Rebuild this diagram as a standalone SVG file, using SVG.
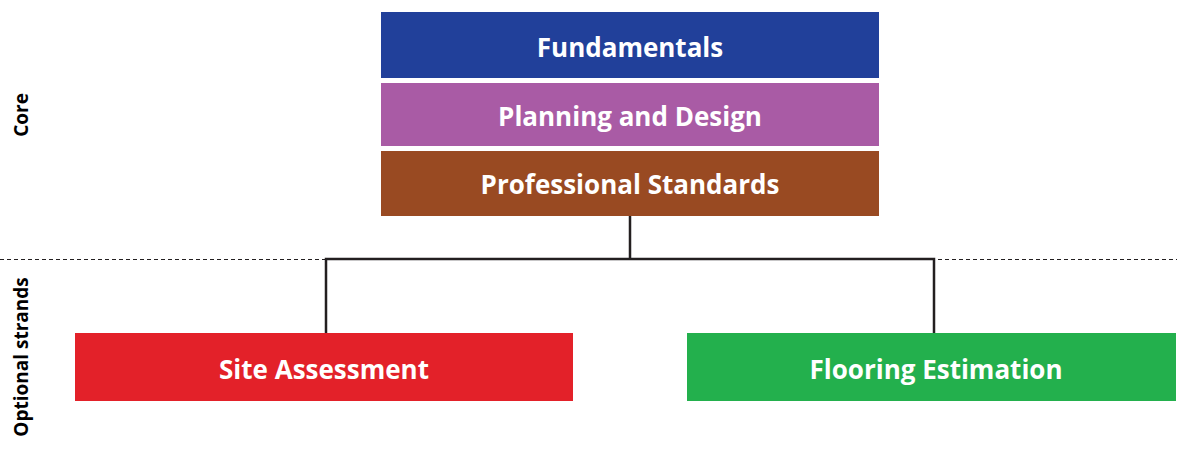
<svg xmlns="http://www.w3.org/2000/svg" width="1177" height="452" viewBox="0 0 1177 452">
<style>
.t{font-family:"Open Sans","Liberation Sans",sans-serif;font-weight:bold;fill:#fff;font-size:26px;text-anchor:middle;dominant-baseline:central}
.s{font-family:"Open Sans","Liberation Sans",sans-serif;font-weight:bold;fill:#000;font-size:19px;text-anchor:middle;dominant-baseline:central}
.c{fill:none;stroke:#231f20;stroke-width:2.5}
</style>
<rect width="1177" height="452" fill="#fff"/>
<line x1="0" y1="259.5" x2="1177" y2="259.5" stroke="#231f20" stroke-width="1" stroke-dasharray="4,3"/>
<g id="label-core"><text class="s" transform="translate(21,115) rotate(-90)">Core</text></g>
<g id="label-optional"><text class="s" transform="translate(21,357) rotate(-90)">Optional strands</text></g>
<g id="connectors">
<path class="c" d="M630,216 V259 M326,333 V259 H934 V333"/>
</g>
<g id="fundamentals"><rect x="381" y="12" width="498" height="66" fill="#21409a"/><text class="t" x="630" y="47">Fundamentals</text></g>
<g id="planning"><rect x="381" y="83" width="498" height="63" fill="#a95ba5"/><text class="t" x="630" y="116">Planning and Design</text></g>
<g id="professional"><rect x="381" y="151" width="498" height="65" fill="#994a22"/><text class="t" x="630" y="184">Professional Standards</text></g>
<g id="site"><rect x="75" y="333" width="498" height="68" fill="#e32129"/><text class="t" x="324" y="369">Site Assessment</text></g>
<g id="flooring"><rect x="687" y="333" width="489" height="68" fill="#23b04d"/><text class="t" x="936" y="369">Flooring Estimation</text></g>
</svg>
